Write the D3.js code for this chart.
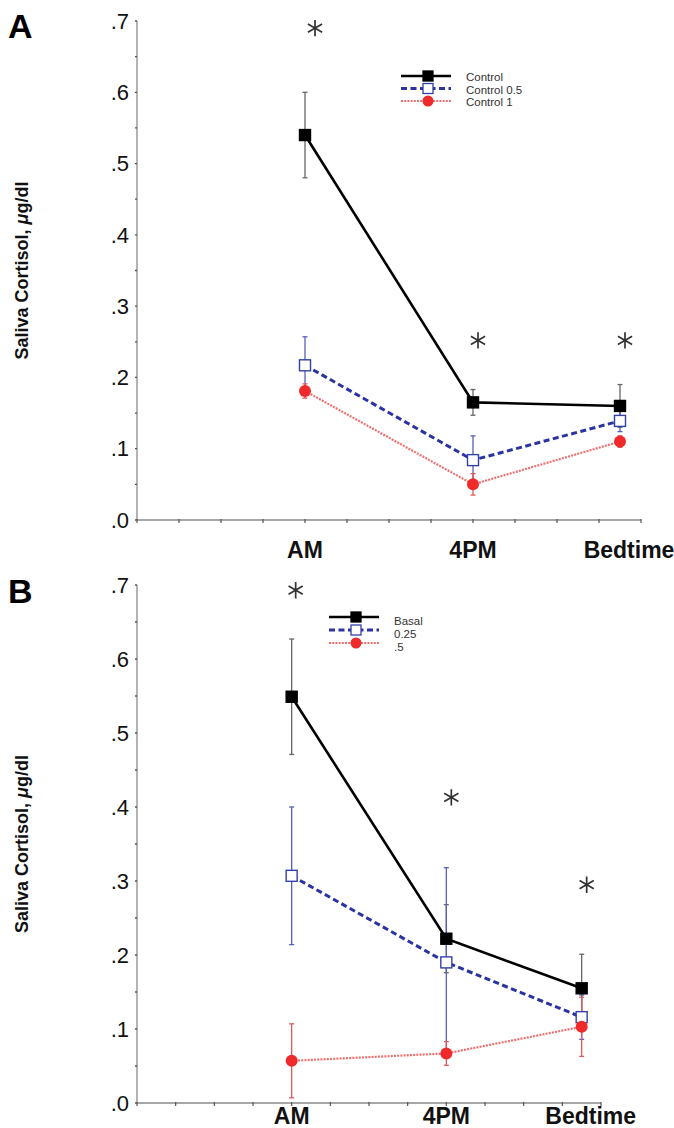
<!DOCTYPE html>
<meta charset="utf-8">
<style>
  body { margin: 0; background: #fff; }
  svg text { font-family: "Liberation Sans", Arial, sans-serif; }
</style>
<div id="chart"></div>
<script src="https://cdnjs.cloudflare.com/ajax/libs/d3/7.8.5/d3.min.js"></script>
<script>
// ---- data ----
const times = ["AM", "4PM", "Bedtime"];
const timePos = [4, 8, 11.5];
const yTickVals = [0, 0.1, 0.2, 0.3, 0.4, 0.5, 0.6, 0.7];
const yTickLabels = [".0", ".1", ".2", ".3", ".4", ".5", ".6", ".7"];

const namesA = ["Control", "Control 0.5", "Control 1"];
const controlA = [0.54, 0.165, 0.16];
const controlAErr = [0.06, 0.018, 0.03];
const control05A = [0.217, 0.084, 0.139];
const control05AErr = [0.04, 0.034, 0.015];
const control1A = [0.181, 0.05, 0.11];
const control1AErr = [0.01, 0.015, 0.008];
const starsA = [0.69, 0.252, 0.252];

const namesB = ["Basal", " 0.25", ".5"];
const basalB = [0.549, 0.222, 0.155];
const basalBErr = [0.078, 0.046, 0.046];
const dose025B = [0.307, 0.19, 0.116];
const dose025BErr = [0.093, 0.128, 0.03];
const dose05B = [0.057, 0.067, 0.103];
const dose05BErr = [0.05, 0.016, 0.04];
const starsB = [0.693, 0.413, 0.295];

// ---- styles for the three series ----
const styles = [
    { line: "#000", width: 2.6, dash: null, err: "#666", marker: "square", fill: "#000", stroke: "#000" },
    { line: "#2a33a0", width: 3, dash: "6,3.5", err: "#5560b8", marker: "square", fill: "#fff", stroke: "#3340a8" },
    { line: "#f07070", width: 2.2, dash: "2,1.2", err: "#e05a5a", marker: "circle", fill: "#ee2a2a", stroke: "#ee2a2a" }
];

const svg = d3.select("#chart").append("svg")
    .attr("width", 674).attr("height", 1128);

const star = d3.symbol().type(d3.symbolAsterisk).size(190);

function drawPanel(p) {
    const x = d3.scaleLinear().domain([0, 12]).range([p.left, p.right]);
    const y = d3.scaleLinear().domain([0, 0.7]).range([p.bottom, p.top]);
    const g = svg.append("g");

    // y axis
    g.append("line").attr("x1", p.left).attr("x2", p.left)
        .attr("y1", y(0)).attr("y2", y(0.7))
        .attr("stroke", "#8a8a8a").attr("stroke-width", 1.3);
    g.selectAll(".ymin").data(d3.range(0, 0.701, 0.05)).join("line")
        .attr("x1", p.left - 2).attr("x2", p.left)
        .attr("y1", d => y(d)).attr("y2", d => y(d))
        .attr("stroke", "#555").attr("stroke-width", 1.3);
    g.selectAll(".ylab").data(yTickVals).join("text")
        .attr("x", p.left - 8).attr("y", d => y(d))
        .attr("dy", "0.35em").attr("text-anchor", "end")
        .attr("font-size", 22).attr("fill", "#111")
        .text((d, i) => yTickLabels[i]);

    // x axis
    g.append("line").attr("x1", p.left).attr("x2", x(12))
        .attr("y1", y(0)).attr("y2", y(0))
        .attr("stroke", "#8a8a8a").attr("stroke-width", 1.3);
    g.selectAll(".xtick").data(d3.range(0, 13)).join("line")
        .attr("x1", d => x(d)).attr("x2", d => x(d))
        .attr("y1", y(0) - 1).attr("y2", y(0) + 3)
        .attr("stroke", "#555").attr("stroke-width", 1.2);
    g.selectAll(".xlab").data(times).join("text")
        .attr("x", (d, i) => x(timePos[i]) + (i === 2 ? 9 : 0))
        .attr("y", p.labelY)
        .attr("text-anchor", "middle")
        .attr("font-size", 23).attr("font-weight", "bold").attr("fill", "#111")
        .text(d => d);

    // y label
    const yl = g.append("text")
        .attr("transform", `translate(28,${(p.top + p.bottom) / 2}) rotate(-90)`)
        .attr("text-anchor", "middle")
        .attr("font-size", 18).attr("font-weight", "bold").attr("fill", "#111");
    yl.append("tspan").text("Saliva Cortisol, ");
    yl.append("tspan").attr("font-style", "italic").text("μ");
    yl.append("tspan").text("g/dl");

    // panel letter
    g.append("text").attr("x", 8).attr("y", p.letterY)
        .attr("font-size", 34).attr("font-weight", "bold").attr("fill", "#000")
        .text(p.letter);

    const line = d3.line().x((d, i) => x(timePos[i])).y(d => y(d));

    // draw series back to front: lines, then error bars, then markers
    p.series.forEach((s, k) => {
        const st = styles[k];
        g.append("path").datum(s.values)
            .attr("d", line).attr("fill", "none")
            .attr("stroke", st.line).attr("stroke-width", st.width)
            .attr("stroke-dasharray", st.dash);
    });
    p.series.forEach((s, k) => {
        const st = styles[k];
        const eb = g.append("g").attr("stroke", st.err).attr("stroke-width", 1.3);
        s.values.forEach((v, i) => {
            const cx = x(timePos[i]);
            eb.append("line").attr("x1", cx).attr("x2", cx)
                .attr("y1", y(v + s.err[i])).attr("y2", y(v - s.err[i]));
            [v + s.err[i], v - s.err[i]].forEach(e => {
                eb.append("line").attr("x1", cx - 2.5).attr("x2", cx + 2.5)
                    .attr("y1", y(e)).attr("y2", y(e));
            });
        });
    });
    p.series.forEach((s, k) => {
        const st = styles[k];
        s.values.forEach((v, i) => {
            const cx = x(timePos[i]), cy = y(v);
            if (st.marker === "square") {
                g.append("rect").attr("x", cx - 5.5).attr("y", cy - 5.5)
                    .attr("width", 11).attr("height", 11)
                    .attr("fill", st.fill).attr("stroke", st.stroke).attr("stroke-width", 1.4);
            } else {
                g.append("circle").attr("cx", cx).attr("cy", cy).attr("r", 6)
                    .attr("fill", st.fill);
            }
        });
    });

    // asterisks
    g.selectAll(".star").data(p.stars).join("path")
        .attr("transform", (d, i) => `translate(${x(timePos[i]) + (i === 0 ? p.star0dx : 5)},${y(d)})`)
        .attr("d", star)
        .attr("fill", "none").attr("stroke", "#333").attr("stroke-width", 1.7);

    // legend
    const lg = g.append("g");
    p.series.forEach((s, k) => {
        const st = styles[k];
        const ly = p.legY + k * p.legStep;
        lg.append("line").attr("x1", p.legX).attr("x2", p.legX + 50)
            .attr("y1", ly).attr("y2", ly)
            .attr("stroke", st.line).attr("stroke-width", st.width)
            .attr("stroke-dasharray", st.dash);
        const mx = p.legX + 27;
        if (st.marker === "square") {
            lg.append("rect").attr("x", mx - 5).attr("y", ly - 5)
                .attr("width", 10).attr("height", 10)
                .attr("fill", st.fill).attr("stroke", st.stroke).attr("stroke-width", 1.3);
        } else {
            lg.append("circle").attr("cx", mx).attr("cy", ly).attr("r", 5.5).attr("fill", st.fill);
        }
        lg.append("text").attr("x", p.legTextX).attr("y", ly + p.legTextDy)
            .attr("dy", "0.35em").attr("font-size", 11.5).attr("fill", "#333")
            .attr("font-family", "DejaVu Sans")
            .text(s.name);
    });
}

drawPanel({
    letter: "A", letterY: 38,
    left: 137, right: 641, top: 21, bottom: 520, labelY: 558,
    series: [
        { name: namesA[0], values: controlA, err: controlAErr },
        { name: namesA[1], values: control05A, err: control05AErr },
        { name: namesA[2], values: control1A, err: control1AErr }
    ],
    stars: starsA, star0dx: 10,
    legX: 401, legY: 76, legStep: 12.5, legTextX: 466, legTextDy: 1
});

drawPanel({
    letter: "B", letterY: 603,
    left: 137, right: 601, top: 585, bottom: 1103, labelY: 1124,
    series: [
        { name: namesB[0], values: basalB, err: basalBErr },
        { name: namesB[1], values: dose025B, err: dose025BErr },
        { name: namesB[2], values: dose05B, err: dose05BErr }
    ],
    stars: starsB, star0dx: 4,
    legX: 329, legY: 617, legStep: 13, legTextX: 394, legTextDy: 4
});
</script>
